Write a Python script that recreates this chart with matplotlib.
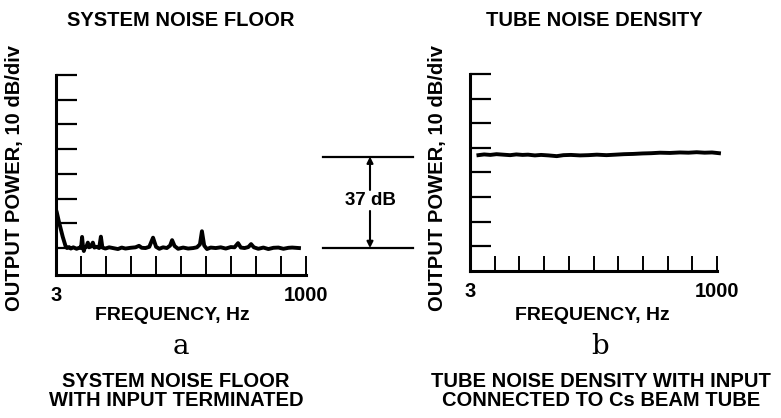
import numpy as np
import matplotlib
matplotlib.use("Agg")
import matplotlib.pyplot as plt
import matplotlib.transforms as mtransforms

plt.rcParams['font.family'] = ['Liberation Sans', 'DejaVu Sans']
plt.rcParams['font.weight'] = 'bold'

# panel a: system noise floor (Hz, dB)
freq_a = [3, 6, 15, 30, 42, 47, 55, 62, 72, 85, 98, 103, 107, 111, 114, 118, 124, 130,
          135, 142, 150, 156, 165, 175, 182, 188, 200, 215, 230, 250, 265, 280, 300,
          320, 334, 345, 360, 375, 390, 402, 415, 430, 445, 458, 466, 476, 490, 510,
          530, 550, 565, 577, 585, 594, 605, 620, 640, 660, 680, 700, 715, 729, 740,
          755, 770, 781, 792, 810, 830, 850, 870, 890, 910, 930, 945, 972]
db_a = [15.5, 14.5, 10.5, 4.5, 0.5, 0.0, 0.4, -0.2, 0.3, -0.3, 0.2, 0.0, 4.5, 0.2, -1.2,
        0.3, 0.5, 2.2, 0.3, 0.6, 2.2, 0.2, 0.5, 0.0, 4.6, 0.2, -0.2, 0.3, 0.0, -0.4,
        0.2, -0.2, 0.1, 0.3, 0.9, 0.1, 0.0, 0.5, 4.2, 0.5, -0.3, 0.3, 0.0, 1.0, 3.2,
        0.8, -0.3, 0.2, -0.2, 0.0, 0.3, 1.5, 6.8, 1.0, -0.4, 0.2, 0.0, 0.3, -0.2, 0.4,
        0.3, 2.0, 0.2, 0.0, 0.4, 1.6, 0.3, -0.3, 0.2, -0.4, 0.1, 0.2, -0.3, 0.1, 0.2, 0.0]

# panel b: tube noise density (Hz, dB)
freq_b = [37, 60, 85, 110, 137, 165, 190, 215, 237, 265, 290, 320, 353, 380, 410, 447,
          480, 515, 554, 590, 625, 661, 700, 735, 770, 810, 850, 885, 918, 950, 980, 1008]
db_b = [37.0, 37.3, 37.1, 37.4, 37.2, 37.0, 37.3, 37.1, 37.2, 36.9, 37.1, 36.9, 36.6,
        37.0, 37.1, 36.9, 37.0, 37.2, 37.0, 37.2, 37.4, 37.5, 37.7, 37.8, 38.0, 37.9,
        38.1, 38.0, 38.2, 38.0, 38.1, 37.8]

x_ticks = np.linspace(3, 1000, 11)
x_labels = ['3'] + [''] * 9 + ['1000']
y_ticks = np.arange(0, 71, 10)
gap_db = 37

W, H = 781, 418
fig = plt.figure(figsize=(W / 100, H / 100), dpi=100, facecolor='white')


def fx(px):
    return px / W


def fy(py):
    return 1 - py / H


def setup(ax, ylo, xtick_len):
    ax.set_xlim(3, 1000)
    ax.set_ylim(ylo, 70)
    for s in ['top', 'right']:
        ax.spines[s].set_visible(False)
    for s in ['left', 'bottom']:
        ax.spines[s].set_linewidth(2.2)
        ax.spines[s].set_capstyle('projecting')
    ax.set_xticks(x_ticks)
    ax.set_xticklabels(x_labels)
    ax.set_yticks(y_ticks)
    ax.set_yticklabels([])
    ax.tick_params(axis='y', direction='in', length=15, width=1.6)
    ax.tick_params(axis='x', direction='in', length=xtick_len, width=1.4,
                   pad=8, labelsize=14.5)


ax_a = fig.add_axes([fx(56), fy(275), fx(250), 200 / H])
setup(ax_a, -10.9, 14)
ax_a.plot(freq_a, db_a, color='black', lw=2.8, solid_joinstyle='round')

ax_b = fig.add_axes([fx(470), fy(271), fx(247), 197 / H])
setup(ax_b, -10.1, 11)
ax_b.plot(freq_b, db_b, color='black', lw=2.8, clip_on=False)

# 37 dB bracket between the panels
trans = mtransforms.blended_transform_factory(fig.transFigure, ax_a.transData)
for lvl in [0, gap_db]:
    ax_a.plot([fx(323), fx(413)], [lvl, lvl], color='black', lw=1.6,
              transform=trans, clip_on=False)
arr = dict(arrowstyle='-|>', lw=1.5, color='black', mutation_scale=9,
           shrinkA=0, shrinkB=0)
ax_a.annotate('', xy=(fx(370), gap_db), xytext=(fx(370), 23.5),
              xycoords=trans, textcoords=trans, arrowprops=arr)
ax_a.annotate('', xy=(fx(370), 0), xytext=(fx(370), 15.0),
              xycoords=trans, textcoords=trans, arrowprops=arr)
ax_a.text(fx(370), 19.3, '%d dB' % gap_db, transform=trans, ha='center',
          va='center', fontsize=13.5)

# titles and labels
fig.text(fx(181), fy(20), 'SYSTEM NOISE FLOOR', ha='center', va='center', fontsize=14.5)
fig.text(fx(594), fy(20), 'TUBE NOISE DENSITY', ha='center', va='center', fontsize=14.5)
for x in [15, 438]:
    fig.text(fx(x), fy(178), 'OUTPUT POWER, 10 dB/div', rotation=90,
             ha='center', va='center', fontsize=14.5)
fig.text(fx(172), fy(315), 'FREQUENCY, Hz', ha='center', va='center', fontsize=14)
fig.text(fx(592), fy(315), 'FREQUENCY, Hz', ha='center', va='center', fontsize=14)
fig.text(fx(181), fy(346), 'a', ha='center', va='center', fontsize=20,
         family='DejaVu Serif', weight='normal')
fig.text(fx(600), fy(346), 'b', ha='center', va='center', fontsize=20,
         family='DejaVu Serif', weight='normal')
fig.text(fx(176), fy(391), 'SYSTEM NOISE FLOOR\nWITH INPUT TERMINATED',
         ha='center', va='center', fontsize=14.5, linespacing=1.05)
fig.text(fx(601), fy(391), 'TUBE NOISE DENSITY WITH INPUT\nCONNECTED TO Cs BEAM TUBE',
         ha='center', va='center', fontsize=14.5, linespacing=1.05)

fig.savefig('out.png', dpi=100, facecolor='white')
